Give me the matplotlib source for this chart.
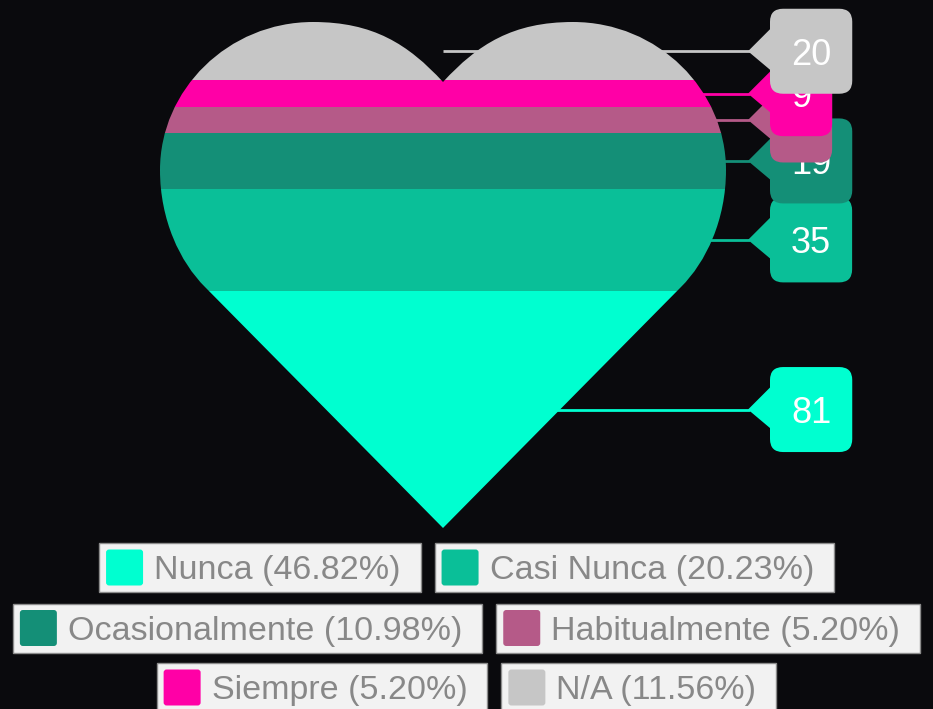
import matplotlib
matplotlib.use('Agg')
import matplotlib.pyplot as plt
from matplotlib.path import Path
from matplotlib.patches import PathPatch, FancyBboxPatch, Polygon, Rectangle

# data
categories = ['Nunca', 'Casi Nunca', 'Ocasionalmente', 'Habitualmente', 'Siempre', 'N/A']
values = [81, 35, 19, 9, 9, 20]
colors = ['#00ffd0', '#0abf98', '#148f77', '#b55a88', '#ff00a6', '#c6c6c6']

bg = '#0a0a0d'
plt.rcParams['font.family'] = ['Liberation Sans', 'DejaVu Sans']

fig = plt.figure(figsize=(9.33, 7.09), dpi=100, facecolor=bg)
ax = fig.add_axes([0, 0, 1, 1])
ax.set_facecolor(bg)
ax.set_xlim(0, 933)
ax.set_ylim(709, 0)
ax.axis('off')

cx, top, tip = 443, 22, 528

# heart outline (right half, then mirrored left half)
right = [(443, 82), (478, 44), (513, 22), (573, 22), (658, 22), (726, 90), (726, 170),
         (726, 220), (706, 262), (681, 287), (443, 528)]
left = [(2 * cx - x, y) for x, y in right[::-1]][1:]
verts = right + left + [(443, 82)]
codes = [Path.MOVETO] + [Path.CURVE4] * 9 + [Path.LINETO] + [Path.LINETO] + [Path.CURVE4] * 9 + [Path.CLOSEPOLY]
heart = PathPatch(Path(verts, codes), facecolor='none', edgecolor='none')
ax.add_patch(heart)

total = sum(values)
unit = (tip - top) / total
renderer = fig.canvas.get_renderer()

cum = 0
for i, (cat, v, c) in enumerate(zip(categories, values, colors)):
    bottom = tip - cum * unit
    bars = ax.bar(cx, -v * unit, bottom=bottom, width=620, color=c, linewidth=0, zorder=3)
    for b in bars:
        b.set_clip_path(heart)
    ymid = tip - (cum + v / 2) * unit
    cum += v

    # connector line
    ax.plot([cx, 750], [ymid, ymid], color=c, lw=2, zorder=2, solid_capstyle='butt')

    # callout label
    z = 10 + 2 * i
    t = ax.text(0, ymid, str(v), color='white', fontsize=26, ha='center', va='center_baseline', zorder=z + 1)
    tw = t.get_window_extent(renderer).width
    bw = tw + 42
    ax.add_patch(FancyBboxPatch((770, ymid - 42.5), bw, 85,
                                boxstyle='round,pad=0,rounding_size=13',
                                facecolor=c, edgecolor='none', zorder=z))
    ax.add_patch(Polygon([(748, ymid), (773, ymid - 25), (773, ymid + 21)],
                         closed=True, facecolor=c, edgecolor='none', zorder=z))
    t.set_x(770 + bw / 2)

# legend
labels = ['%s (%.2f%%)' % (cat, v / total * 100) for cat, v in zip(categories, values)]
items = []
for lab in labels:
    t = ax.text(0, 0, lab, color='#888888', fontsize=24.5, ha='left', va='center_baseline', zorder=31)
    tw = t.get_window_extent(renderer).width
    items.append((t, 7 + 37 + 11 + tw + 20))

gap = 14
rows = [[]]
for it in items:
    row_w = sum(w for _, w in rows[-1]) + gap * len(rows[-1])
    if rows[-1] and row_w + it[1] > 917:
        rows.append([])
    rows[-1].append(it)

row_y = [567.5, 628, 687.5]
k = 0
for ry, row in zip(row_y, rows):
    row_w = sum(w for _, w in row) + gap * (len(row) - 1)
    x = 466.5 - row_w / 2
    for t, w in row:
        ax.add_patch(Rectangle((x, ry - 24.5), w, 49, facecolor='#f2f2f2',
                               edgecolor='#8c8c8c', lw=1, zorder=30))
        ax.add_patch(FancyBboxPatch((x + 7, ry - 18), 37, 36,
                                    boxstyle='round,pad=0,rounding_size=3',
                                    facecolor=colors[k], edgecolor='none', zorder=31))
        t.set_position((x + 7 + 37 + 11, ry))
        x += w + gap
        k += 1

fig.savefig('out.png', dpi=100, facecolor=bg)
